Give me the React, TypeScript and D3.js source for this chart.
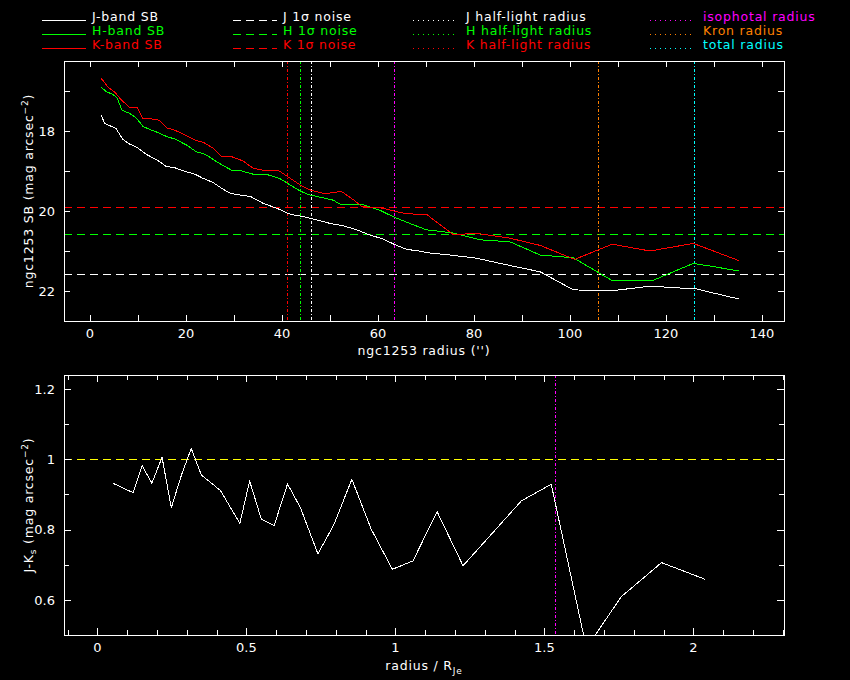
import React from 'react';
import * as d3 from 'd3';

// ---------- data ----------
const jRadius = [2.3, 3.1, 4.2, 5.4, 6.8, 8.0, 9.9, 11.7, 14.2, 15.8, 17.7, 19.8, 21.9, 23.5, 25.7, 27.8, 29.3, 31.3, 33.5, 36.1, 38.9, 41.7, 44.4, 47.2, 50.0, 52.8, 55.6, 58.3, 61.1, 63.5, 66.0, 68.6, 70.1, 75.0, 80.6, 85.4, 93.8, 100.7, 106.9, 109.0, 116.7, 123.6, 125.7, 130.6, 135.2];
const jSB = [17.6, 17.81, 17.87, 17.93, 18.2, 18.31, 18.42, 18.58, 18.74, 18.88, 18.92, 19.01, 19.08, 19.18, 19.29, 19.46, 19.56, 19.6, 19.64, 19.81, 19.93, 20.08, 20.14, 20.22, 20.31, 20.37, 20.47, 20.6, 20.7, 20.84, 20.96, 21.0, 21.04, 21.1, 21.18, 21.31, 21.52, 21.97, 22.0, 21.99, 21.88, 21.93, 21.93, 22.07, 22.2];

const hRadius = [2.3, 3.5, 4.7, 5.6, 6.7, 8.3, 9.7, 11.1, 12.9, 14.6, 16.0, 17.7, 20.1, 22.2, 24.0, 26.4, 29.5, 31.6, 34.0, 37.2, 39.6, 41.7, 43.8, 45.8, 48.6, 50.7, 52.4, 54.9, 56.9, 60.4, 63.3, 66.0, 70.1, 73.6, 75.7, 81.3, 87.5, 93.8, 100.7, 108.8, 117.0, 125.7, 129.9, 135.2];
const hSB = [16.91, 17.02, 17.08, 17.16, 17.48, 17.56, 17.68, 17.89, 17.98, 18.06, 18.14, 18.2, 18.35, 18.52, 18.58, 18.77, 18.98, 19.0, 19.08, 19.1, 19.19, 19.35, 19.5, 19.6, 19.67, 19.73, 19.85, 19.83, 19.84, 19.98, 20.15, 20.28, 20.47, 20.52, 20.55, 20.72, 20.77, 21.1, 21.17, 21.74, 21.75, 21.31, 21.39, 21.5];

const kRadius = [2.3, 3.0, 3.8, 5.1, 6.6, 8.3, 9.9, 11.1, 12.5, 14.4, 16.0, 17.7, 19.8, 21.9, 23.6, 25.7, 27.4, 29.5, 31.9, 34.0, 36.1, 39.2, 41.7, 43.8, 45.8, 48.6, 50.0, 52.4, 54.9, 56.7, 61.1, 64.6, 66.7, 70.3, 75.7, 80.6, 87.5, 93.8, 101.0, 108.8, 116.7, 125.7, 135.2];
const kSB = [16.68, 16.78, 16.91, 17.02, 17.23, 17.41, 17.42, 17.7, 17.69, 17.73, 17.92, 17.98, 18.1, 18.23, 18.28, 18.43, 18.63, 18.64, 18.75, 18.93, 18.98, 18.98, 19.18, 19.35, 19.47, 19.56, 19.55, 19.51, 19.72, 19.89, 19.93, 20.04, 20.07, 20.1, 20.59, 20.56, 20.68, 20.86, 21.21, 20.83, 21.0, 20.81, 21.24];

const noiseBands = ['J', 'H', 'K'];
const noiseValues = [21.58, 20.58, 19.9];

const radiusNames = ['J half-light', 'H half-light', 'K half-light', 'isophotal', 'Kron', 'total'];
const radiusValues = [46.1, 43.8, 41.1, 63.4, 105.8, 125.9];

const colorRadius = [0.052, 0.12, 0.15, 0.183, 0.217, 0.248, 0.282, 0.315, 0.349, 0.383, 0.413, 0.478, 0.511, 0.55, 0.593, 0.638, 0.681, 0.74, 0.793, 0.854, 0.919, 0.99, 1.059, 1.14, 1.227, 1.423, 1.523, 1.641, 1.758, 1.893, 2.038];
const colorJK = [0.932, 0.905, 0.982, 0.932, 1.006, 0.862, 0.955, 1.031, 0.955, 0.932, 0.911, 0.818, 0.938, 0.83, 0.811, 0.93, 0.863, 0.731, 0.813, 0.943, 0.801, 0.687, 0.711, 0.851, 0.697, 0.882, 0.929, 0.463, 0.609, 0.706, 0.659];
const colorReference = 1.0;
const colorIsophotal = 1.536;

const topXTicks = d3.range(0, 141, 10);
const topYTicks = d3.range(17, 23, 1);
const botXTicks = d3.range(-1, 24, 1).map((v) => v / 10);
const botYTicks = d3.range(5, 13, 1).map((v) => v / 10);

// ---------- styles ----------
const WHITE = '#ffffff';
const GREEN = '#00ff00';
const RED = '#ff0000';
const MAGENTA = '#ff00ff';
const ORANGE = '#ff8000';
const CYAN = '#00ffff';
const YELLOW = '#ffff00';
const bandColors = [WHITE, GREEN, RED];
const radiusColors = [WHITE, GREEN, RED, MAGENTA, ORANGE, CYAN];
const FONT = 'DejaVu Sans';
const DASH = '8,5';
const DOTDASH = '3,2,1,2';
const CRISP = 'crispEdges';

const P1 = { l: 64, r: 784, t: 61, b: 321 };
const P2 = { l: 64, r: 784, t: 375, b: 635 };

const xTop = d3.scaleLinear().domain([-5.4, 144.6]).range([P1.l, P1.r]);
const yTop = d3.scaleLinear().domain([16.25, 22.75]).range([P1.t, P1.b]);
const xBot = d3.scaleLinear().domain([-0.112, 2.304]).range([P2.l, P2.r]);
const yBot = d3.scaleLinear().domain([0.5, 1.24]).range([P2.b, P2.t]);

const fmt = (v: number) => String(+v.toFixed(1));
const px = (v: number) => Math.round(v) + 0.5;

function seriesPath(xs: number[], ys: number[], sx: any, sy: any) {
  const pts = xs.map((x, i) => [x, ys[i]] as [number, number]);
  return d3
    .line<[number, number]>()
    .x((d) => sx(d[0]))
    .y((d) => sy(d[1]))(pts) as string;
}

const legendRows = [20.5, 34.5, 48.5];
const legendCols = [
  { x0: 42, x1: 86, tx: 92 },
  { x0: 233, x1: 277, tx: 283 },
  { x0: 413, x1: 457, tx: 466 },
  { x0: 650, x1: 694, tx: 703 },
];
const legendItems = [
  { col: 0, row: 0, text: 'J-band SB', color: WHITE, dash: '' },
  { col: 0, row: 1, text: 'H-band SB', color: GREEN, dash: '' },
  { col: 0, row: 2, text: 'K-band SB', color: RED, dash: '' },
  { col: 1, row: 0, text: 'J 1σ noise', color: WHITE, dash: DASH },
  { col: 1, row: 1, text: 'H 1σ noise', color: GREEN, dash: DASH },
  { col: 1, row: 2, text: 'K 1σ noise', color: RED, dash: DASH },
  { col: 2, row: 0, text: 'J half-light radius', color: WHITE, dash: '1,4' },
  { col: 2, row: 1, text: 'H half-light radius', color: GREEN, dash: '1,4' },
  { col: 2, row: 2, text: 'K half-light radius', color: RED, dash: '1,4' },
  { col: 3, row: 0, text: 'isophotal radius', color: MAGENTA, dash: '1,4' },
  { col: 3, row: 1, text: 'Kron radius', color: ORANGE, dash: '1,4' },
  { col: 3, row: 2, text: 'total radius', color: CYAN, dash: '1,4' },
];

const textStyle = { fontFamily: FONT, fontSize: 12.5, letterSpacing: 0.8, fill: WHITE } as const;
const tickText = { fontFamily: FONT, fontSize: 13, fill: WHITE } as const;

export default function App() {
  return (
    <div style={{ position: 'fixed', left: 0, top: 0, width: 850, height: 680, background: '#000' }}>
      <svg width={850} height={680} style={{ display: 'block', background: '#000' }}>
        <defs>
          <clipPath id="clipTop">
            <rect x={P1.l} y={P1.t} width={P1.r - P1.l} height={P1.b - P1.t} />
          </clipPath>
          <clipPath id="clipBot">
            <rect x={P2.l} y={P2.t} width={P2.r - P2.l} height={P2.b - P2.t} />
          </clipPath>
        </defs>

        {/* legend */}
        {legendItems.map((it, i) => {
          const c = legendCols[it.col];
          const y = legendRows[it.row];
          return (
            <g key={'lg' + i}>
              <line x1={c.x0} x2={c.x1} y1={y} y2={y} stroke={it.color} strokeWidth={1} strokeDasharray={it.dash || undefined} shapeRendering={CRISP} />
              <text x={c.tx} y={y + 0.5} style={{ ...textStyle, fill: it.color }}>{it.text}</text>
            </g>
          );
        })}

        {/* ---------- top panel ---------- */}
        <g clipPath="url(#clipTop)">
          {noiseValues.map((v, i) => (
            <line key={'n' + i} x1={P1.l} x2={P1.r} y1={px(yTop(v))} y2={px(yTop(v))} stroke={bandColors[i]} strokeWidth={1} strokeDasharray={DASH} shapeRendering={CRISP} />
          ))}
          {radiusValues.map((v, i) => (
            <line key={'r' + i} x1={px(xTop(v))} x2={px(xTop(v))} y1={P1.t} y2={P1.b} stroke={radiusColors[i]} strokeWidth={1} strokeDasharray={DOTDASH} shapeRendering={CRISP} />
          ))}
          <path d={seriesPath(jRadius, jSB, xTop, yTop)} fill="none" stroke={WHITE} strokeWidth={1} shapeRendering={CRISP} />
          <path d={seriesPath(hRadius, hSB, xTop, yTop)} fill="none" stroke={GREEN} strokeWidth={1} shapeRendering={CRISP} />
          <path d={seriesPath(kRadius, kSB, xTop, yTop)} fill="none" stroke={RED} strokeWidth={1} shapeRendering={CRISP} />
        </g>
        <rect x={P1.l + 0.5} y={P1.t + 0.5} width={P1.r - P1.l} height={P1.b - P1.t} fill="none" stroke={WHITE} strokeWidth={1} shapeRendering={CRISP} />
        {topXTicks.map((v) => (
          <g key={'tx' + v} shapeRendering={CRISP}>
            <line x1={px(xTop(v))} x2={px(xTop(v))} y1={P1.b} y2={P1.b - 6} stroke={WHITE} />
            <line x1={px(xTop(v))} x2={px(xTop(v))} y1={P1.t} y2={P1.t + 6} stroke={WHITE} />
            {v % 20 === 0 && (
              <text x={xTop(v)} y={338} textAnchor="middle" style={tickText}>{fmt(v)}</text>
            )}
          </g>
        ))}
        {topYTicks.map((v) => (
          <g key={'ty' + v} shapeRendering={CRISP}>
            <line x1={P1.l} x2={P1.l + 6} y1={px(yTop(v))} y2={px(yTop(v))} stroke={WHITE} />
            <line x1={P1.r} x2={P1.r - 6} y1={px(yTop(v))} y2={px(yTop(v))} stroke={WHITE} />
            {v % 2 === 0 && (
              <text x={55} y={yTop(v) + 4.7} textAnchor="end" style={tickText}>{fmt(v)}</text>
            )}
          </g>
        ))}
        <text x={424} y={355} textAnchor="middle" style={textStyle}>ngc1253 radius ('')</text>
        <text transform={`translate(33,${(P1.t + P1.b) / 2}) rotate(-90)`} textAnchor="middle" style={textStyle}>
          ngc1253 SB (mag arcsec
          <tspan dy={-5} fontSize={9}>−2</tspan>
          <tspan dy={5}>)</tspan>
        </text>

        {/* ---------- bottom panel ---------- */}
        <g clipPath="url(#clipBot)">
          <line x1={P2.l} x2={P2.r} y1={px(yBot(colorReference))} y2={px(yBot(colorReference))} stroke={YELLOW} strokeWidth={1} strokeDasharray={DASH} shapeRendering={CRISP} />
          <line x1={px(xBot(colorIsophotal))} x2={px(xBot(colorIsophotal))} y1={P2.t} y2={P2.b} stroke={MAGENTA} strokeWidth={1} strokeDasharray={DOTDASH} shapeRendering={CRISP} />
          <path d={seriesPath(colorRadius, colorJK, xBot, yBot)} fill="none" stroke={WHITE} strokeWidth={1} shapeRendering={CRISP} />
        </g>
        <rect x={P2.l + 0.5} y={P2.t + 0.5} width={P2.r - P2.l} height={P2.b - P2.t} fill="none" stroke={WHITE} strokeWidth={1} shapeRendering={CRISP} />
        {botXTicks.map((v) => {
          const major = Math.abs(v * 2 - Math.round(v * 2)) < 1e-6;
          const len = major ? 7 : 5;
          return (
            <g key={'bx' + v} shapeRendering={CRISP}>
              <line x1={px(xBot(v))} x2={px(xBot(v))} y1={P2.b} y2={P2.b - len} stroke={WHITE} />
              <line x1={px(xBot(v))} x2={px(xBot(v))} y1={P2.t} y2={P2.t + len} stroke={WHITE} />
              {major && v >= 0 && v <= 2 && (
                <text x={xBot(v)} y={652} textAnchor="middle" style={tickText}>{fmt(v)}</text>
              )}
            </g>
          );
        })}
        {botYTicks.map((v) => {
          const labeled = Math.round(v * 10) % 2 === 0 && v > 0.55;
          const len = labeled ? 7 : 5;
          return (
            <g key={'by' + v} shapeRendering={CRISP}>
              <line x1={P2.l} x2={P2.l + len} y1={px(yBot(v))} y2={px(yBot(v))} stroke={WHITE} />
              <line x1={P2.r} x2={P2.r - len} y1={px(yBot(v))} y2={px(yBot(v))} stroke={WHITE} />
              {labeled && (
                <text x={55} y={yBot(v) + 4.7} textAnchor="end" style={tickText}>{fmt(v)}</text>
              )}
            </g>
          );
        })}
        <text x={424} y={670} textAnchor="middle" style={textStyle}>
          radius / R
          <tspan dy={4} fontSize={9}>Je</tspan>
        </text>
        <text transform={`translate(33,${(P2.t + P2.b) / 2}) rotate(-90)`} textAnchor="middle" style={textStyle}>
          J-K
          <tspan dy={3} fontSize={9}>s</tspan>
          <tspan dy={-3}> (mag arcsec</tspan>
          <tspan dy={-5} fontSize={9}>−2</tspan>
          <tspan dy={5}>)</tspan>
        </text>
      </svg>
    </div>
  );
}
